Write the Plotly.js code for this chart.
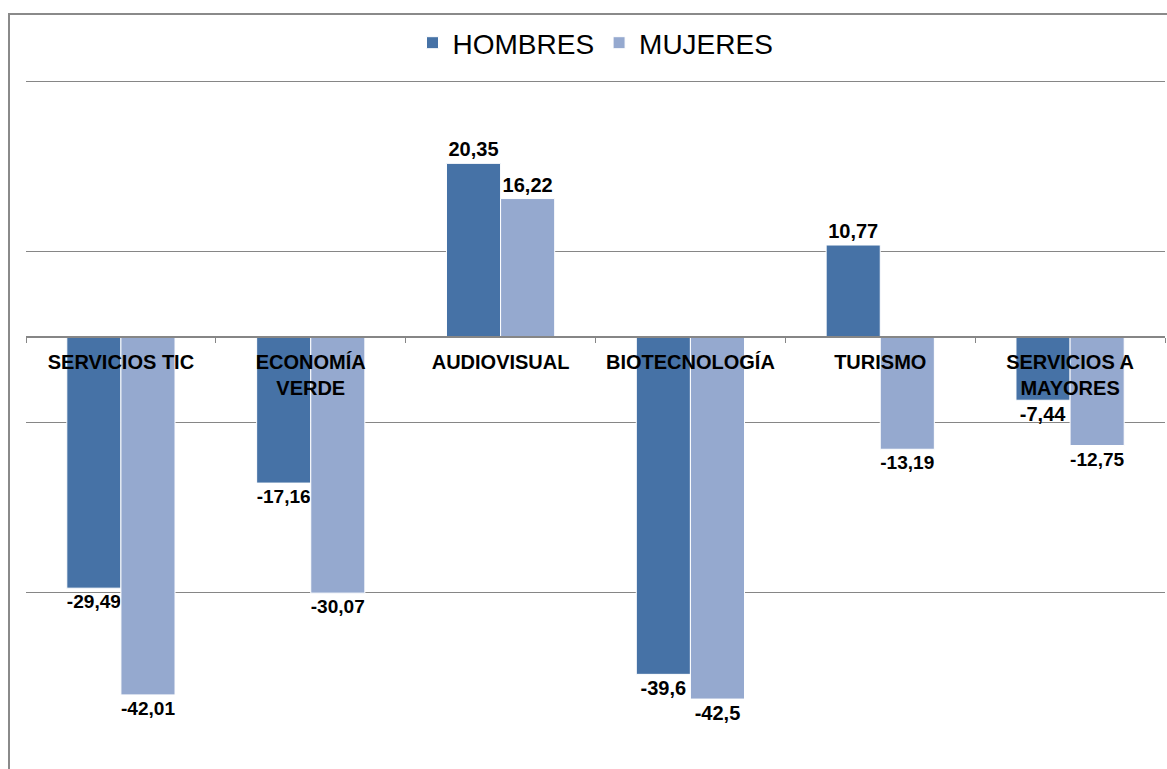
<!DOCTYPE html>
<html>
<head>
<meta charset="utf-8">
<script src="https://cdn.plot.ly/plotly-3.0.1.min.js"></script>
<style>
  html, body { margin: 0; padding: 0; background: #fff; overflow: hidden; width: 1167px; height: 769px; }
  #frame { position: absolute; left: 8px; top: 13px; width: 1157px; height: 756px;
           border-left: 2px solid #8a8a8a; border-top: 2px solid #8a8a8a; }
  #chart { width: 1157px; height: 756px; }
</style>
</head>
<body>
<div id="frame"><div id="chart"></div></div>
<script>
const categories = ["SERVICIOS TIC", "ECONOMÍA<br>VERDE", "AUDIOVISUAL", "BIOTECNOLOGÍA", "TURISMO", "SERVICIOS A<br>MAYORES"];
const hombres = [-29.49, -17.16, 20.35, -39.6, 10.77, -7.44];
const mujeres = [-42.01, -30.07, 16.22, -42.5, -13.19, -12.75];
const gridVals = [-30, -10, 10, 30];
const yMin = -50, yMax = 30.6;

const fmt = v => String(v).replace('.', ',');
const labelFont = { family: "Liberation Sans, Arial, sans-serif", size: 20, color: "#000", weight: "bold" };

const traces = [
  { type: "bar", name: "HOMBRES", x: categories, y: hombres, text: hombres.map(fmt),
    textposition: "outside", textfont: labelFont, cliponaxis: false,
    marker: { color: "#4672A6", line: { color: "#ffffff", width: 1 } }, hoverinfo: "none" },
  { type: "bar", name: "MUJERES", x: categories, y: mujeres, text: mujeres.map(fmt),
    textposition: "outside", textfont: labelFont, cliponaxis: false,
    marker: { color: "#95A9CF", line: { color: "#ffffff", width: 1 } }, hoverinfo: "none" }
];

const plotH = 756 - 61 - 8;
const layout = {
  width: 1157, height: 756,
  margin: { l: 16, r: 2, t: 61, b: 8 },
  paper_bgcolor: "#fff", plot_bgcolor: "#fff",
  barmode: "group", bargap: 0.43, bargroupgap: 0,
  showlegend: true,
  legend: { orientation: "h", x: 0.5, xanchor: "center", y: 1 + (61 - 28) / plotH, yanchor: "middle",
            font: { family: "Liberation Sans, Arial, sans-serif", size: 28, color: "#000" },
            itemwidth: 30, tracegroupgap: 0 },
  xaxis: { type: "category", anchor: "free", position: (0 - yMin) / (yMax - yMin),
           showline: true, linecolor: "#868686", linewidth: 2,
           ticks: "outside", tickson: "boundaries", ticklen: 5, tickcolor: "#868686", tickwidth: 1,
           ticklabelstandoff: 7,
           showgrid: false, fixedrange: true,
           tickfont: { family: "Liberation Sans, Arial, sans-serif", size: 20, color: "#000", weight: "bold" } },
  yaxis: { range: [yMin, yMax], tickmode: "array", tickvals: gridVals, showticklabels: false,
           showgrid: true, gridcolor: "#868686", gridwidth: 1, zeroline: false, showline: false, fixedrange: true },
  font: { family: "Liberation Sans, Arial, sans-serif" }
};

Plotly.newPlot("chart", traces, layout, { displayModeBar: false, staticPlot: true });
</script>
</body>
</html>
